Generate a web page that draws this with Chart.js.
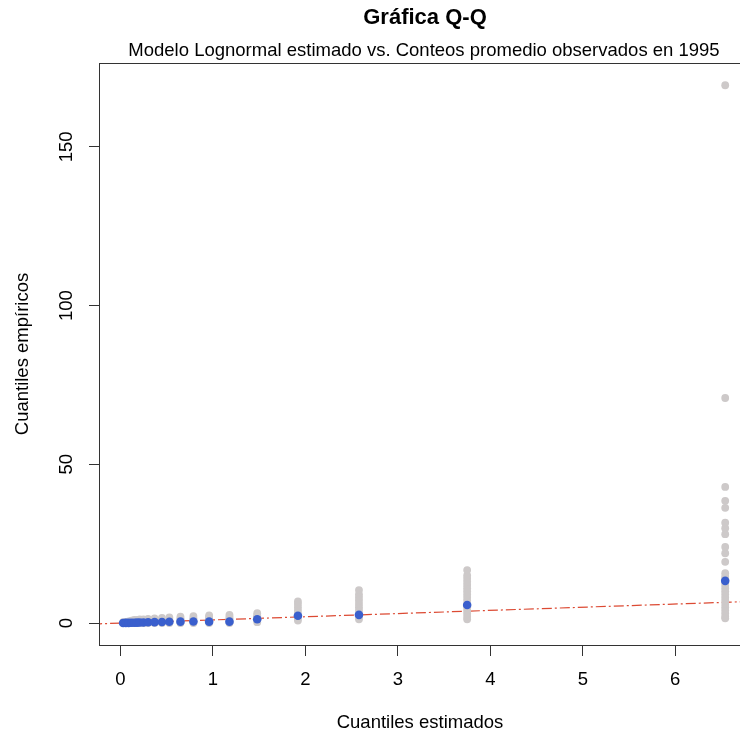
<!DOCTYPE html>
<html>
<head>
<meta charset="utf-8">
<title>Gráfica Q-Q</title>
<script src="https://cdn.jsdelivr.net/npm/chart.js@4/dist/chart.umd.min.js"></script>
<style>
  body { margin: 0; background: #fff; }
  canvas { display: block; }
</style>
</head>
<body>
<canvas id="grafico" width="740" height="740"></canvas>
<script>
    // Cuantiles estimados (modelo lognormal)
    const cuantilesEstimados = [0.03, 0.06, 0.09, 0.12, 0.15, 0.18, 0.21, 0.25, 0.30, 0.37, 0.45,
        0.53, 0.65, 0.79, 0.96, 1.18, 1.48, 1.92, 2.58, 3.75, 6.54];

    // Conteos promedio observados (puntos azules)
    const promediosObservados = [0.05, 0.06, 0.08, 0.10, 0.12, 0.15, 0.18, 0.20, 0.25, 0.30, 0.35,
        0.40, 0.45, 0.50, 0.45, 0.45, 1.2, 2.3, 2.6, 5.7, 13.3];

    // Cuantiles empíricos (puntos grises), uno por cada cuantil estimado
    const cuantilesEmpiricos = [
        [0, 0.3],
        [0, 0.4],
        [0, 0.5],
        [0, 0.5, 0.8],
        [0, 0.5, 1],
        [0, 0.5, 1],
        [0, 0.5, 1.2],
        [0, 0.5, 1.2],
        [0, 0.5, 1.3],
        [0, 0.5, 1, 1.5],
        [0, 0.5, 1, 1.6],
        [0, 0.5, 1, 1.8],
        [0, 0.5, 1, 1.5, 2],
        [0, 0.5, 1, 1.5, 2.2],
        [0, 0.5, 1, 1.5, 2, 2.4],
        [0, 0.5, 1, 1.5, 2, 2.6],
        [0.3, 1, 1.5, 2, 2.5, 3.1],
        [0.8, 1.5, 2, 3, 4, 5, 6, 6.8],
        [1.2, 2, 3, 4, 5, 6, 7, 8, 9, 10.4],
        [1.2, 2, 3, 4, 5, 6, 7, 8, 9, 10, 11, 12, 13, 14, 15, 16.7],
        [1.5, 2, 3, 4, 5, 6, 7, 8, 9, 10, 11, 12, 13, 14, 14.6, 15.7, 19.3, 22, 24, 28, 29.9,
         31.6, 36.3, 38.5, 42.9, 70.9, 169.4]
    ];

    // Recta de referencia y = x
    const rectaReferencia = [-0.5, 7.5];

    // Marcas de los ejes
    const marcasX = [0, 1, 2, 3, 4, 5, 6];
    const marcasY = [0, 50, 100, 150];

    const fuente = '"Liberation Sans", Arial, sans-serif';

    // Armar los puntos para Chart.js
    const puntosGrises = [];
    cuantilesEstimados.forEach((q, i) => {
        cuantilesEmpiricos[i].forEach(v => puntosGrises.push({ x: q, y: v }));
    });
    const puntosAzules = cuantilesEstimados.map((q, i) => ({ x: q, y: promediosObservados[i] }));
    const puntosRecta = rectaReferencia.map(v => ({ x: v, y: v }));

    // Plugin: fondo blanco, títulos y caja del gráfico
    const marcoPlugin = {
        id: 'marco',
        beforeDraw(chart) {
            const ctx = chart.ctx;
            ctx.save();
            ctx.fillStyle = '#ffffff';
            ctx.fillRect(0, 0, chart.width, chart.height);
            ctx.restore();
        },
        afterDraw(chart) {
            const ctx = chart.ctx;
            const a = chart.chartArea;
            ctx.save();
            ctx.strokeStyle = '#333333';
            ctx.lineWidth = 1;
            // la caja sigue fuera del lienzo por la derecha, como en el original
            ctx.strokeRect(a.left - 0.5, a.top + 0.5, a.right - a.left + 12, a.bottom - a.top);
            ctx.fillStyle = '#000000';
            ctx.textAlign = 'center';
            ctx.textBaseline = 'middle';
            ctx.font = 'bold 22px ' + fuente;
            ctx.fillText('Gráfica Q-Q', 425, 18);
            ctx.font = '18.5px ' + fuente;
            ctx.fillText('Modelo Lognormal estimado vs. Conteos promedio observados en 1995', 424, 51);
            ctx.restore();
        }
    };

    const ctx = document.getElementById('grafico').getContext('2d');

    new Chart(ctx, {
        type: 'scatter',
        data: {
            datasets: [
                {
                    label: 'Promedios',
                    data: puntosAzules,
                    backgroundColor: '#3a5fcd',
                    borderWidth: 0,
                    pointRadius: 4.3,
                    order: 1
                },
                {
                    label: 'Empíricos',
                    data: puntosGrises,
                    backgroundColor: '#cdc9c9',
                    borderWidth: 0,
                    pointRadius: 3.9,
                    order: 2
                },
                {
                    label: 'y = x',
                    type: 'line',
                    data: puntosRecta,
                    borderColor: '#dc4a33',
                    borderWidth: 1.2,
                    borderDash: [10, 3, 2, 3],
                    pointRadius: 0,
                    fill: false,
                    order: 3
                }
            ]
        },
        options: {
            responsive: false,
            devicePixelRatio: 1,
            animation: false,
            layout: { autoPadding: false, padding: { top: 63, left: 0, right: 0, bottom: 0 } },
            plugins: {
                legend: { display: false },
                tooltip: { enabled: false }
            },
            scales: {
                x: {
                    type: 'linear',
                    min: -0.22,
                    max: 6.7,
                    afterBuildTicks: scale => { scale.ticks = marcasX.map(v => ({ value: v })); },
                    afterFit: scale => { scale.height = 95; },
                    border: { display: false },
                    grid: { drawOnChartArea: false, drawTicks: true, tickLength: 11, tickColor: '#333333' },
                    ticks: { color: '#000000', padding: 13, maxRotation: 0, autoSkip: false,
                             font: { family: fuente, size: 18.5 } },
                    title: { display: true, text: 'Cuantiles estimados', color: '#000000',
                             padding: { top: 0, bottom: 6 }, font: { family: fuente, size: 18.5 } }
                },
                y: {
                    type: 'linear',
                    min: -6.9,
                    max: 176.4,
                    afterBuildTicks: scale => { scale.ticks = marcasY.map(v => ({ value: v })); },
                    afterFit: scale => { scale.width = 100; },
                    border: { display: false },
                    grid: { drawOnChartArea: false, drawTicks: true, tickLength: 11, tickColor: '#333333' },
                    ticks: { color: '#000000', padding: 7, minRotation: 90, maxRotation: 90,
                             crossAlign: 'center', autoSkip: false,
                             font: { family: fuente, size: 18.5 } },
                    title: { display: true, text: 'Cuantiles empíricos', color: '#000000',
                             padding: { top: 12, bottom: 0 }, font: { family: fuente, size: 18.5 } }
                }
            }
        },
        plugins: [marcoPlugin]
    });
</script>
</body>
</html>
